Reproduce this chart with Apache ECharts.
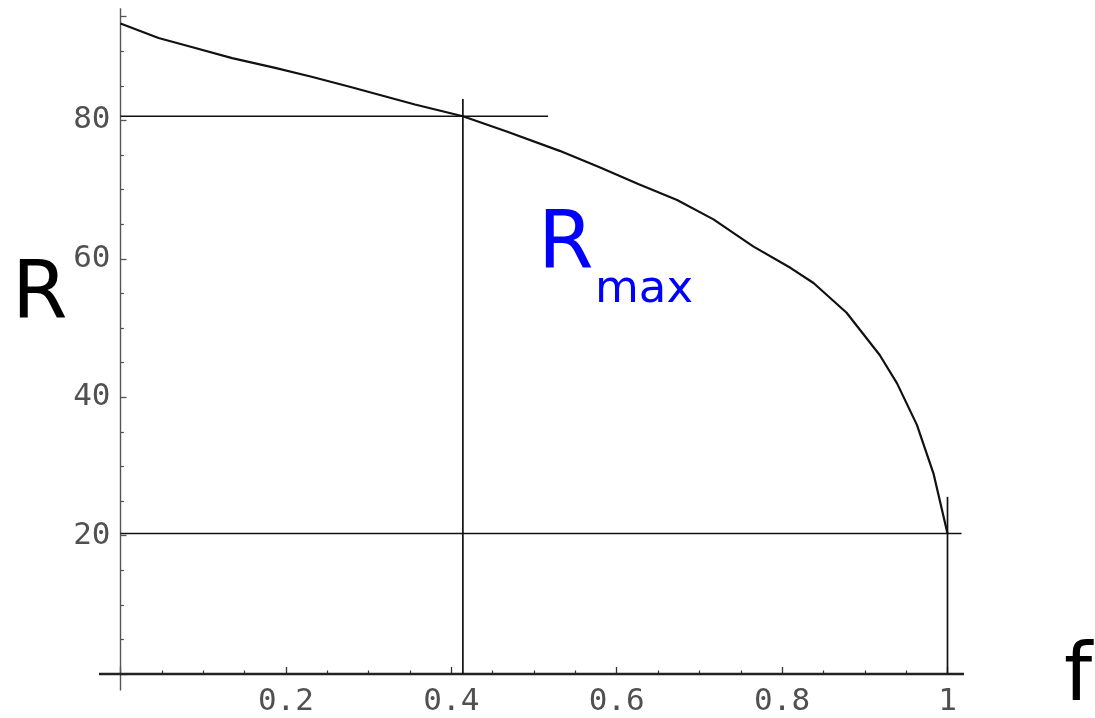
<!DOCTYPE html>
<html>
<head>
<meta charset="utf-8">
<title>R versus f</title>
<script src="https://cdn.jsdelivr.net/npm/echarts@6/dist/echarts.min.js"></script>
<style>
  html, body { margin: 0; padding: 0; background: #ffffff; }
  #chart { width: 1095px; height: 718px; }
</style>
</head>
<body>
<div id="chart"></div>
<script>
// Sampled curve R(f)
const fValues = [0, 0.046, 0.086, 0.135, 0.187, 0.231, 0.276, 0.316, 0.356, 0.414,
                 0.467, 0.531, 0.580, 0.626, 0.673, 0.717, 0.765, 0.810, 0.838,
                 0.878, 0.918, 0.939, 0.963, 0.983, 1.0];
const rValues = [94.0, 91.9, 90.6, 89.0, 87.6, 86.3, 84.9, 83.6, 82.3, 80.6,
                 78.4, 75.6, 73.2, 70.8, 68.5, 65.7, 61.8, 58.7, 56.5,
                 52.2, 46.1, 42.0, 36.0, 29.0, 20.3];

// Guide segments [f1, R1, f2, R2] marking the two reference points
const guideSegments = [
  [0, 80.6, 0.517, 80.6],
  [0.414, 0, 0.414, 83.1],
  [0, 20.3, 1.017, 20.3],
  [1, 0, 1, 25.6]
];

// Axis lines run a little past the plotted range: [f1, R1, f2, R2]
const yAxisSpan = [[0, -2.4, 0, 96.2]];
const xAxisSpan = [[-0.026, 0, 1.02, 0]];

// Tick labels
const xTickLabels = { 0.2: '0.2', 0.4: '0.4', 0.6: '0.6', 0.8: '0.8', 1: '1' };
const yTickLabels = { 20: '20', 40: '40', 60: '60', 80: '80' };

const curveData = fValues.map((f, i) => [f, rValues[i]]);

const chart = echarts.init(document.getElementById('chart'), null, { renderer: 'canvas' });

const labelFont = {
  fontFamily: 'DejaVu Sans Mono',
  fontSize: 31,
  color: '#505050'
};

// Straight segments drawn through the axes' own scales
function segmentSeries(data, color, width) {
  return {
    type: 'custom',
    data: data,
    clip: false,
    silent: true,
    animation: false,
    encode: { x: [0, 2], y: [1, 3] },
    renderItem: function (params, api) {
      const p1 = api.coord([api.value(0), api.value(1)]);
      const p2 = api.coord([api.value(2), api.value(3)]);
      return {
        type: 'line',
        shape: { x1: p1[0], y1: p1[1], x2: p2[0], y2: p2[1] },
        style: { stroke: color, lineWidth: width }
      };
    }
  };
}

chart.setOption({
  animation: false,
  backgroundColor: '#ffffff',
  grid: {
    left: 120.5,
    right: 147.5,
    top: 16.6,
    bottom: 44,
    containLabel: false,
    outerBoundsMode: 'none'
  },
  xAxis: {
    type: 'value',
    min: 0,
    max: 1,
    interval: 0.2,
    axisLine: { show: false },
    splitLine: { show: false },
    axisTick: { show: true, inside: true, length: 7, lineStyle: { color: '#333', width: 1.3 } },
    minorTick: { show: true, splitNumber: 4, length: 3.5, lineStyle: { color: '#333', width: 1.2 } },
    axisLabel: Object.assign({
      margin: 12,
      formatter: v => xTickLabels[Math.round(v * 10) / 10] || ''
    }, labelFont)
  },
  yAxis: {
    type: 'value',
    min: 0,
    max: 95,
    interval: 20,
    axisLine: { show: false },
    splitLine: { show: false },
    axisTick: { show: true, inside: true, length: 6, lineStyle: { color: '#555', width: 1.3 } },
    minorTick: { show: true, splitNumber: 4, length: 3.5, lineStyle: { color: '#555', width: 1.2 } },
    axisLabel: Object.assign({
      margin: 10,
      formatter: v => yTickLabels[v] || ''
    }, labelFont)
  },
  series: [
    segmentSeries(yAxisSpan, '#555', 1.4),
    segmentSeries(xAxisSpan, '#222', 2.5),
    segmentSeries(guideSegments, '#111', 1.7),
    {
      type: 'line',
      data: curveData,
      symbol: 'none',
      clip: false,
      silent: true,
      animation: false,
      lineStyle: { color: '#111', width: 2.2 }
    }
  ],
  graphic: [
    {
      type: 'text',
      left: 12,
      top: 257,
      style: { text: 'R', fontFamily: 'DejaVu Sans', fontSize: 80, fill: '#000' }
    },
    {
      type: 'text',
      left: 1064,
      top: 639,
      style: { text: 'f', fontFamily: 'DejaVu Sans', fontSize: 80, fill: '#000' }
    },
    {
      type: 'text',
      left: 538,
      top: 207,
      style: { text: 'R', fontFamily: 'DejaVu Sans', fontSize: 80, fill: '#0000ff' }
    },
    {
      type: 'text',
      left: 595,
      top: 268,
      style: { text: 'max', fontFamily: 'DejaVu Sans', fontSize: 45, fill: '#0000ff' }
    }
  ]
});
</script>
</body>
</html>
